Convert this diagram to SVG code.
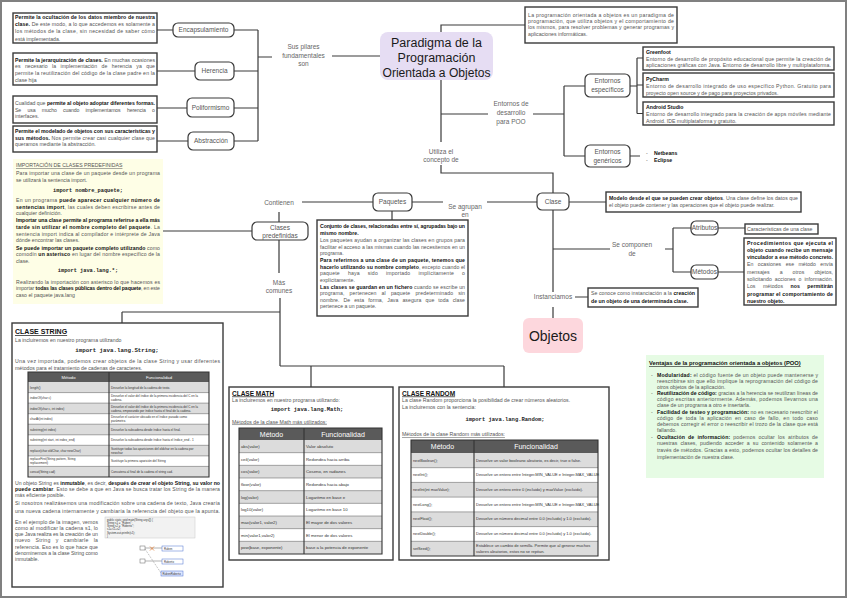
<svg xmlns="http://www.w3.org/2000/svg" width="848" height="600" viewBox="0 0 848 600">
<style>
text{font-family:"Liberation Sans",Arial,sans-serif;}
.frame{fill:none;stroke:#808080;stroke-width:2}
.c{fill:none;stroke:#3a3a3a;stroke-width:1.2}
.n{fill:#fff;stroke:#3a3a3a;stroke-width:1.2}
.b{fill:#fff;stroke:#3a3a3a;stroke-width:1.4}
.t{font-size:5.2px;fill:#555}
.k{font-weight:bold;fill:#111}
.nl{font-size:6.5px;fill:#555;text-anchor:middle}
.lb{font-size:6.5px;fill:#666;text-anchor:middle}
.mono{font-family:"Liberation Mono","DejaVu Sans Mono",monospace;font-weight:bold;fill:#222}
.ttl{font-weight:bold;fill:#111;text-decoration:underline}
.th{fill:#5a5a5a}
.gr{fill:#dcdcdc}
.tl{stroke:#555;stroke-width:0.5;fill:none}
.to{stroke:#333;stroke-width:1.1;fill:none}
.hd{fill:#fff;text-anchor:middle}
.cm{font-family:"Liberation Mono","DejaVu Sans Mono",monospace;fill:#333}
.cf{fill:#333}
</style>

<rect class="frame" x="1" y="1" width="845" height="596"/>

<g id="connectors">
<path class="c" d="M157 30H173 M234 30H258 M157 71H195 M234 71H258 M157 108H187 M234 108H258 M157 141H188 M234 141H258 M258 30V141 M258 57H272 M332 56H380"/>
<path class="c" d="M441 32V25H525 M441 80V142 M441 114H488 M533 114H564 M564 86V156 M564 86H585 M564 156H585 M630 86H637 M637 58V113.5 M637 58H643 M637 85H643 M637 113.5H643 M630 156H640"/>
<path class="c" d="M441 165V173H553V193 M553 210V292 M553 307V318 M569 202H606 M553 249H610 M665 249H673 M673 228V272 M673 228H691 M673 272H691 M718 228H745 M718 272H744 M575 297H588"/>
<path class="c" d="M537 202H487 M443 202H412 M373 202H302 M279 212V222 M252 231H163 M279 240V273 M280 298V366 M122 312H280 M122 312V323 M280 366H504 M311 366V387 M504 366V387 M392 211V220"/>
</g>

<g id="box-encapsulamiento">
<rect class="b" x="13" y="13" width="144" height="30"/>
<text class="t" x="15" y="18.8" textLength="140" lengthAdjust="spacing"><tspan class="k">Permite la ocultación de los datos miembro de nuestra</tspan></text>
<text class="t" x="15" y="26" textLength="140" lengthAdjust="spacing"><tspan class="k">clase.</tspan> De este modo, a lo que accedemos es solamente a</text>
<text class="t" x="15" y="33.3" textLength="140" lengthAdjust="spacing">los métodos de la clase, sin necesidad de saber cómo</text>
<text class="t" x="15" y="40.5">está implementada.</text>
</g>
<g id="box-herencia">
<rect class="b" x="13" y="53" width="144" height="32"/>
<text class="t" x="15" y="61.8" textLength="140" lengthAdjust="spacing"><tspan class="k">Permite la jerarquización de clases.</tspan> En muchas ocasiones</text>
<text class="t" x="15" y="68.3" word-spacing="3" textLength="140" lengthAdjust="spacing">es necesario la implementación de herencia ya que</text>
<text class="t" x="15" y="74.8" textLength="140" lengthAdjust="spacing">permite la reutilización del código de la clase padre en la</text>
<text class="t" x="15" y="81.5">clase hija</text>
</g>
<g id="box-poliformismo">
<rect class="b" x="13" y="96" width="144" height="27"/>
<text class="t" x="15" y="105" textLength="140" lengthAdjust="spacing">Cualidad que <tspan class="k">permite al objeto adoptar diferentes formas.</tspan></text>
<text class="t" x="15" y="111.5" word-spacing="5" textLength="140" lengthAdjust="spacing">Se usa mucho cuando implementamos herencia o</text>
<text class="t" x="15" y="118">interfaces.</text>
</g>
<g id="box-abstraccion">
<rect class="b" x="13" y="126" width="144" height="26"/>
<text class="t" x="15" y="133" textLength="140" lengthAdjust="spacing"><tspan class="k">Permite el modelado de objetos con sus características y</tspan></text>
<text class="t" x="15" y="139.5" textLength="140" lengthAdjust="spacing"><tspan class="k">sus métodos.</tspan> Nos permite crear casi cualquier clase que</text>
<text class="t" x="15" y="146">queramos mediante la abstracción.</text>
</g>

<g id="node-encapsulamiento"><rect class="n" x="173" y="23" width="61" height="14" rx="5"/><text class="nl" x="203.5" y="32.3">Encapsulamiento</text></g>
<g id="node-herencia"><rect class="n" x="195" y="62" width="39" height="18" rx="5"/><text class="nl" x="214.5" y="73.3">Herencia</text></g>
<g id="node-poliformismo"><rect class="n" x="187" y="98" width="47" height="19" rx="5"/><text class="nl" x="210.5" y="109.8">Poliformismo</text></g>
<g id="node-abstraccion"><rect class="n" x="188" y="132" width="46" height="18" rx="5"/><text class="nl" x="211" y="143.3">Abstracción</text></g>

<g id="label-pilares"><text class="lb" x="303.5" y="49">Sus pilares</text><text class="lb" x="303.5" y="57.5">fundamentales</text><text class="lb" x="303.5" y="66">son</text></g>

<g id="node-paradigma">
<rect x="380" y="32" width="113" height="48" rx="8" fill="#e6ddf3"/>
<text x="436.5" y="46.5" font-size="12.5" fill="#1a1a1a" text-anchor="middle">Paradigma de la</text>
<text x="436.5" y="61.5" font-size="12.5" fill="#1a1a1a" text-anchor="middle">Programación</text>
<text x="436.5" y="76.5" font-size="12.5" fill="#1a1a1a" text-anchor="middle" textLength="108" lengthAdjust="spacingAndGlyphs">Orientada a Objetos</text>
</g>

<g id="box-definicion">
<rect class="b" x="525" y="7" width="152" height="36"/>
<text class="t" x="528" y="16.8" textLength="146" lengthAdjust="spacing">La programación orientada a objetos es un paradigma de</text>
<text class="t" x="528" y="23.1" textLength="146" lengthAdjust="spacing">programación, que utiliza objetos y el comportamiento de</text>
<text class="t" x="528" y="29.4" textLength="146" lengthAdjust="spacing">los mismos, para resolver problemas y generar programas y</text>
<text class="t" x="528" y="35.7">aplicaciones informáticas.</text>
</g>

<g id="label-entornos"><text class="lb" x="511" y="106">Entornos de</text><text class="lb" x="511" y="115">desarrollo</text><text class="lb" x="511" y="124">para POO</text></g>

<g id="node-especificos"><rect class="n" x="585" y="74" width="45" height="23" rx="5"/><text class="nl" font-size="6" x="607.5" y="83.3">Entornos</text><text class="nl" font-size="6" x="607.5" y="92.3">específicos</text></g>
<g id="node-genericos"><rect class="n" x="585" y="145" width="45" height="22" rx="5"/><text class="nl" font-size="6" x="607.5" y="154">Entornos</text><text class="nl" font-size="6" x="607.5" y="163">genéricos</text></g>

<g id="box-greenfoot">
<rect class="b" x="643" y="47" width="191" height="23"/>
<text class="t" x="646" y="54"><tspan class="k">Greenfoot</tspan></text>
<text class="t" x="646" y="60.5" textLength="185" lengthAdjust="spacing">Entorno de desarrollo de propósito educacional que permite la creación de</text>
<text class="t" x="646" y="67" textLength="185" lengthAdjust="spacing">aplicaciones gráficas con Java. Entorno de desarrollo libre y multiplataforma.</text>
</g>
<g id="box-pycharm">
<rect class="b" x="643" y="73" width="191" height="24"/>
<text class="t" x="646" y="81"><tspan class="k">PyCharm</tspan></text>
<text class="t" x="646" y="88" textLength="185" lengthAdjust="spacing">Entorno de desarrollo integrado de uso específico Python. Gratuito para</text>
<text class="t" x="646" y="94.5">proyecto open source y de pago para proyectos privados.</text>
</g>
<g id="box-android">
<rect class="b" x="643" y="102" width="191" height="23"/>
<text class="t" x="646" y="109"><tspan class="k">Android Studio</tspan></text>
<text class="t" x="646" y="116" textLength="185" lengthAdjust="spacing">Entorno de desarrollo integrado para la creación de apps móviles mediante</text>
<text class="t" x="646" y="122.5">Android. IDE multiplataforma y gratuito.</text>
</g>
<g id="list-genericos">
<text class="t" x="646" y="155.3">-</text><text class="t" x="654" y="155.3"><tspan class="k">Netbeans</tspan></text>
<text class="t" x="646" y="161.8">-</text><text class="t" x="654" y="161.8"><tspan class="k">Eclipse</tspan></text>
</g>

<g id="label-utiliza"><text class="lb" x="441" y="154">Utiliza el</text><text class="lb" x="441" y="162">concepto de</text></g>

<g id="node-clase"><rect class="n" x="537" y="193" width="32" height="17" rx="5"/><text class="nl" font-size="6" x="553" y="203.8">Clase</text></g>
<g id="box-clase">
<rect class="b" x="606" y="192" width="195" height="20"/>
<text class="t" x="609" y="199.7" textLength="189" lengthAdjust="spacing"><tspan class="k">Modelo desde el que se pueden crear objetos</tspan>. Una clase define los datos que</text>
<text class="t" x="609" y="206.7">el objeto puede contener y las operaciones que el objeto puede realizar.</text>
</g>

<g id="label-componen"><text class="lb" font-size="6" x="632" y="247">Se componen</text><text class="lb" font-size="6" x="632" y="256">de</text></g>
<g id="node-atributos"><rect class="n" x="691" y="221" width="27" height="14" rx="5"/><text class="nl" font-size="5.5" x="704.5" y="230">Atributos</text></g>
<g id="node-metodos"><rect class="n" x="691" y="265" width="27" height="14" rx="5"/><text class="nl" font-size="5.5" x="704.5" y="274">Métodos</text></g>
<g id="box-atributos">
<rect class="b" x="745" y="224" width="73" height="10"/>
<text class="t" font-size="4.6" x="747" y="230.8">Características de una clase</text>
</g>
<g id="box-metodos">
<rect class="b" x="744" y="238" width="92" height="67"/>
<text class="t" x="747" y="244.5" textLength="86" lengthAdjust="spacing"><tspan class="k">Procedimientos que ejecuta el</tspan></text>
<text class="t" x="747" y="251.8" textLength="86" lengthAdjust="spacing"><tspan class="k">objeto cuando recibe un mensaje</tspan></text>
<text class="t" x="747" y="259.1" textLength="86" lengthAdjust="spacing"><tspan class="k">vinculador a ese método concreto.</tspan></text>
<text class="t" x="747" y="266.4" word-spacing="3" textLength="86" lengthAdjust="spacing">En ocasiones ese método envía</text>
<text class="t" x="747" y="273.7" word-spacing="8.5" textLength="86" lengthAdjust="spacing">mensajes a otros objetos,</text>
<text class="t" x="747" y="281" word-spacing="1.5" textLength="86" lengthAdjust="spacing">solicitando acciones o información.</text>
<text class="t" x="747" y="288.3" word-spacing="6" textLength="86" lengthAdjust="spacing">Los métodos <tspan class="k">nos permitirán</tspan></text>
<text class="t" x="747" y="295.6" textLength="86" lengthAdjust="spacing"><tspan class="k">programar el comportamiento de</tspan></text>
<text class="t" x="747" y="302.6"><tspan class="k">nuestro objeto.</tspan></text>
</g>

<g id="label-instanciamos"><text class="lb" x="553" y="299.3">Instanciamos</text></g>
<g id="box-instancia">
<rect class="b" x="588" y="288" width="110" height="19"/>
<text class="t" x="591" y="295.2" textLength="104" lengthAdjust="spacing">Se conoce como instanciación a la <tspan class="k">creación</tspan></text>
<text class="t" x="591" y="302.5"><tspan class="k">de un objeto de una determinada clase.</tspan></text>
</g>
<g id="node-objetos"><rect x="523" y="318" width="60" height="35" rx="6" fill="#fdd7dd"/><text x="553" y="340.5" font-size="14" fill="#1a1a1a" text-anchor="middle">Objetos</text></g>

<g id="label-agrupan"><text class="lb" x="465" y="208.5">Se agrupan</text><text class="lb" x="465" y="217">en</text></g>
<g id="node-paquetes"><rect class="n" x="373" y="193" width="39" height="18" rx="5"/><text class="nl" font-size="6" x="392.5" y="204.3">Paquetes</text></g>
<g id="box-paquetes">
<rect class="b" x="317" y="220" width="151" height="96"/>
<text class="t" x="320" y="228" textLength="145" lengthAdjust="spacing"><tspan class="k">Conjunto de clases, relacionadas entre sí, agrupadas bajo un</tspan></text>
<text class="t" x="320" y="234.5"><tspan class="k">mismo nombre.</tspan></text>
<text class="t" x="320" y="242" textLength="145" lengthAdjust="spacing">Los paquetes ayudan a organizar las clases en grupos para</text>
<text class="t" x="320" y="248.5" textLength="145" lengthAdjust="spacing">facilitar el acceso a las mismas cuando las necesitemos en un</text>
<text class="t" x="320" y="255">programa.</text>
<text class="t" x="320" y="262" textLength="145" lengthAdjust="spacing"><tspan class="k">Para referirnos a una clase de un paquete, tenemos que</tspan></text>
<text class="t" x="320" y="268.5" textLength="145" lengthAdjust="spacing"><tspan class="k">hacerlo utilizando su nombre completo</tspan>, excepto cuando el</text>
<text class="t" x="320" y="275" word-spacing="6.5" textLength="145" lengthAdjust="spacing">paquete haya sido importado implícitamente o</text>
<text class="t" x="320" y="281.5">explícitamente.</text>
<text class="t" x="320" y="288.5" textLength="145" lengthAdjust="spacing"><tspan class="k">Las clases se guardan en un fichero</tspan> cuando se escribe un</text>
<text class="t" x="320" y="295" word-spacing="3.5" textLength="145" lengthAdjust="spacing">programa, pertenecen al paquete predeterminado sin</text>
<text class="t" x="320" y="301.5" word-spacing="2.5" textLength="145" lengthAdjust="spacing">nombre. De esta forma, Java asegura que toda clase</text>
<text class="t" x="320" y="308">pertenece a un paquete.</text>
</g>

<g id="label-contienen"><text class="lb" x="279" y="204.5">Contienen</text></g>
<g id="node-predefinidas"><rect class="n" x="252" y="222" width="56" height="18" rx="5"/><text class="nl" x="280" y="229.5">Clases</text><text class="nl" x="280" y="238">predefinidas</text></g>
<g id="label-comunes"><text class="lb" x="279" y="284.5">Más</text><text class="lb" x="279" y="292.5">comunes</text></g>

<g id="box-importacion">
<rect x="13" y="159" width="150" height="145" fill="#fefee6"/>
<text class="t" x="16" y="167" fill="#333" text-decoration="underline">IMPORTACIÓN DE CLASES PREDEFINIDAS</text>
<text class="t" x="16" y="175" textLength="144" lengthAdjust="spacing">Para importar una clase de un paquete desde un programa</text>
<text class="t" x="16" y="181.5">se utilizará la sentencia import.</text>
<text class="mono" font-size="5.3" x="88" y="192" text-anchor="middle">import nombre_paquete;</text>
<text class="t" x="16" y="202" textLength="144" lengthAdjust="spacing">En un programa <tspan class="k">puede aparecer cualquier número de</tspan></text>
<text class="t" x="16" y="208.5" textLength="144" lengthAdjust="spacing"><tspan class="k">sentencias import</tspan>, las cuales deben escribirse antes de</text>
<text class="t" x="16" y="215">cualquier definición.</text>
<text class="t" x="16" y="222" textLength="144" lengthAdjust="spacing"><tspan class="k">Importar una clase permite al programa referirse a ella más</tspan></text>
<text class="t" x="16" y="228.8" textLength="144" lengthAdjust="spacing"><tspan class="k">tarde sin utilizar el nombre completo del paquete</tspan>. La</text>
<text class="t" x="16" y="235.5" textLength="144" lengthAdjust="spacing">sentencia import indica al compilador e intérprete de Java</text>
<text class="t" x="16" y="242">dónde encontrar las clases.</text>
<text class="t" x="16" y="249.5" textLength="144" lengthAdjust="spacing"><tspan class="k">Se puede importar un paquete completo utilizando</tspan> como</text>
<text class="t" x="16" y="256" textLength="144" lengthAdjust="spacing">comodín <tspan class="k">un asterisco</tspan> en lugar del nombre específico de la</text>
<text class="t" x="16" y="262.5">clase.</text>
<text class="mono" font-size="5.3" x="88" y="272" text-anchor="middle">import java.lang.*;</text>
<text class="t" x="16" y="283.5" textLength="144" lengthAdjust="spacing">Realizando la importación con asterisco lo que hacemos es</text>
<text class="t" x="16" y="290" textLength="144" lengthAdjust="spacing">importar <tspan class="k">todas las clases públicas dentro del paquete</tspan>, en este</text>
<text class="t" x="16" y="296.5">caso el paquete java.lang</text>
</g>

<g id="box-string">
<rect class="b" x="12" y="323" width="211" height="264"/>
<text class="ttl" font-size="7" x="15" y="334">CLASE STRING</text>
<text class="t" font-size="5.4" x="15" y="341.5">La incluiremos en nuestro programa utilizando</text>
<text class="mono" font-size="5.8" x="117" y="351.5" text-anchor="middle">import java.lang.String;</text>
<text class="t" font-size="5.4" x="15" y="363" textLength="205" lengthAdjust="spacing">Una vez importada, podemos crear objetos de la clase String y usar diferentes</text>
<text class="t" font-size="5.4" x="15" y="369.5">métodos para el tratamiento de cadenas de caracteres.</text>
<rect class="th" x="28" y="372" width="181" height="10"/>
<rect class="gr" x="28" y="382" width="181" height="10.6"/>
<rect class="gr" x="28" y="403.1" width="181" height="10.6"/>
<rect class="gr" x="28" y="424.2" width="181" height="10.6"/>
<rect class="gr" x="28" y="445.3" width="181" height="10.6"/>
<rect class="gr" x="28" y="466.4" width="181" height="10.6"/>
<path class="tl" d="M28 392.6H209 M28 403.1H209 M28 413.7H209 M28 424.2H209 M28 434.8H209 M28 445.3H209 M28 455.9H209 M28 466.4H209"/>
<path class="to" d="M28 372H209V477H28Z M109 372V477"/>
<text class="hd" font-size="4.2" x="68.5" y="378.8">Método</text>
<text class="hd" font-size="4.2" x="159" y="378.8">Funcionalidad</text>
<g class="cm" font-size="3.1">
<text x="30" y="388.5">length()</text>
<text x="30" y="399">indexOf(char c)</text>
<text x="30" y="409.5">indexOf(char c, int index)</text>
<text x="30" y="420">charAt(int index)</text>
<text x="30" y="430.5">substring(int index)</text>
<text x="30" y="441">substring(int start, int index_end)</text>
<text x="30" y="451.5">replace(char oldChar, char newChar)</text>
<text x="30" y="460.2">replaceFirst(String pattern, String</text>
<text x="30" y="464.2">replacement)</text>
<text x="30" y="472.7">concat(String cad)</text>
</g>
<g class="cf" font-size="3.1">
<text x="111" y="388.5">Devuelve la longitud de la cadena de texto.</text>
<text x="111" y="397">Devuelve el valor del índice de la primera incidencia del C en la</text>
<text x="111" y="401">cadena.</text>
<text x="111" y="407.5">Devuelve el valor del índice de la primera incidencia del C en la</text>
<text x="111" y="411.5">cadena, empezando por índice hasta el final de la cadena.</text>
<text x="111" y="418">Devuelve el carácter ubicado en el índice pasado como</text>
<text x="111" y="422">parámetro.</text>
<text x="111" y="430.5">Devuelve la subcadena desde índice hasta el final.</text>
<text x="111" y="441">Devuelve la subcadena desde índice hasta el índice_end - 1</text>
<text x="111" y="449.6">Sustituye todas las apariciones del oldchar en la cadena por</text>
<text x="111" y="453.6">newchar</text>
<text x="111" y="462.2">Sustituye la primera aparición del String</text>
<text x="111" y="472.7">Concatena al final de la cadena el string cad.</text>
</g>
<text class="t" font-size="5.4" x="15" y="485" textLength="205" lengthAdjust="spacing">Un objeto String es <tspan class="k">inmutable</tspan>, es decir, <tspan class="k">después de crear el objeto String, su valor no</tspan></text>
<text class="t" font-size="5.4" x="15" y="491.3" textLength="205" lengthAdjust="spacing"><tspan class="k">puede cambiar</tspan>. Esto se debe a que en Java se busca tratar los String de la manera</text>
<text class="t" font-size="5.4" x="15" y="497.3">más eficiente posible.</text>
<text class="t" font-size="5.4" x="15" y="504.7" textLength="205" lengthAdjust="spacing">Si nosotros realizásemos una modificación sobre una cadena de texto, Java crearía</text>
<text class="t" font-size="5.4" x="15" y="512.7" textLength="205" lengthAdjust="spacing">una nueva cadena internamente y cambiaría la referencia del objeto que la apunta.</text>
<text class="t" font-size="5.4" x="15" y="523.7" textLength="83" lengthAdjust="spacing">En el ejemplo de la imagen, vemos</text>
<text class="t" font-size="5.4" x="15" y="529.8" textLength="83" lengthAdjust="spacing">como al modificar la cadena s1, lo</text>
<text class="t" font-size="5.4" x="15" y="536" textLength="83" lengthAdjust="spacing">que Java realiza es la creación de un</text>
<text class="t" font-size="5.4" x="15" y="542.2" word-spacing="3.5" textLength="83" lengthAdjust="spacing">nuevo String y cambiarle la</text>
<text class="t" font-size="5.4" x="15" y="548.7" textLength="83" lengthAdjust="spacing">referencia. Eso es lo que hace que</text>
<text class="t" font-size="5.4" x="15" y="554.8" textLength="83" lengthAdjust="spacing">denominemos a la clase String como</text>
<text class="t" font-size="5.4" x="15" y="561">inmutable.</text>
<rect x="105" y="517" width="90" height="21" fill="#f2f2f2" stroke="#c8c8c8" stroke-width="0.5"/>
<g class="cm" font-size="2.8">
<text x="107" y="520.5">public static void main(String args[]) {</text>
<text x="107" y="523.8">    String s1 = &quot;Ruben&quot;;</text>
<text x="107" y="527.1">    String s2 = &quot;Roberto&quot;;</text>
<text x="107" y="530.4">    s1= s1+s2;</text>
<text x="107" y="533.7">    System.out.println(s1);</text>
<text x="107" y="537">}</text>
</g>
<rect x="140" y="546" width="5" height="4" fill="#fff" stroke="#666" stroke-width="0.5"/>
<rect x="140" y="559" width="5" height="4" fill="#fff" stroke="#666" stroke-width="0.5"/>
<path d="M145 548H162 M145 561H162" stroke="#666" stroke-width="0.5"/>
<path d="M145 549L161 573" stroke="#666" stroke-width="0.5" stroke-dasharray="1 1"/>
<path d="M150 546.5L154 550.5 M154 546.5L150 550.5" stroke="#e07020" stroke-width="0.7"/>
<rect x="162" y="546" width="21" height="5" fill="#fff" stroke="#4a6fd0" stroke-width="0.5"/>
<rect x="162" y="559" width="21" height="5" fill="#fff" stroke="#4a6fd0" stroke-width="0.5"/>
<rect x="161" y="571" width="22" height="5" fill="#dfe7ff" stroke="#4a6fd0" stroke-width="0.5"/>
<text x="164" y="549.9" font-size="2.8" fill="#333">Ruben</text>
<text x="164" y="562.9" font-size="2.8" fill="#333">Roberto</text>
<text x="162.5" y="574.9" font-size="2.8" fill="#333">RubenRoberto</text>
</g>

<g id="box-math">
<rect class="b" x="229" y="387" width="164" height="173"/>
<text class="ttl" font-size="6.5" x="232" y="395.5">CLASE MATH</text>
<text class="t" font-size="5" x="232" y="401.5">La incluiremos en nuestro programa utilizando:</text>
<text class="mono" font-size="5.5" x="307" y="410.5" text-anchor="middle">import java.lang.Math;</text>
<text class="t" font-size="5" x="232" y="423.5" text-decoration="underline">Métodos de la clase Math más utilizados:</text>
<rect class="th" x="239" y="428" width="143" height="12"/>
<rect class="gr" x="239" y="440" width="143" height="12.67"/>
<rect class="gr" x="239" y="465.33" width="143" height="12.67"/>
<rect class="gr" x="239" y="490.67" width="143" height="12.67"/>
<rect class="gr" x="239" y="516" width="143" height="12.67"/>
<rect class="gr" x="239" y="541.33" width="143" height="12.67"/>
<path class="tl" d="M239 452.67H382 M239 465.33H382 M239 478H382 M239 490.67H382 M239 503.33H382 M239 516H382 M239 528.67H382 M239 541.33H382"/>
<path class="to" d="M239 428H382V554H239Z M304 428V554"/>
<text class="hd" font-size="7" x="271.5" y="436.5">Método</text>
<text class="hd" font-size="7" x="343" y="436.5">Funcionalidad</text>
<g class="cm" font-size="4.2">
<text x="241" y="447.8">abs(valor)</text>
<text x="241" y="460.5">ceil(valor)</text>
<text x="241" y="473.2">cos(valor)</text>
<text x="241" y="485.8">floor(valor)</text>
<text x="241" y="498.5">log(valor)</text>
<text x="241" y="511.2">log10(valor)</text>
<text x="241" y="523.8">max(valor1, valor2)</text>
<text x="241" y="536.5">min(valor1,valor2)</text>
<text x="241" y="549.2">pow(base, exponente)</text>
</g>
<g class="cf" font-size="4.3">
<text x="306" y="447.8">Valor absoluto</text>
<text x="306" y="460.5">Redondea hacia arriba</text>
<text x="306" y="473.2">Coseno, en radianes</text>
<text x="306" y="485.8">Redondea hacia abajo</text>
<text x="306" y="498.5">Logaritmo en base e</text>
<text x="306" y="511.2">Logaritmo en base 10</text>
<text x="306" y="523.8">El mayor de dos valores</text>
<text x="306" y="536.5">El menor de dos valores</text>
<text x="306" y="549.2">base a la potencia de exponente</text>
</g>
</g>

<g id="box-random">
<rect class="b" x="399" y="387" width="210" height="173"/>
<text class="ttl" font-size="6.5" x="402" y="395.5">CLASE RANDOM</text>
<text class="t" font-size="5" x="402" y="402">La clase Random proporciona la posibilidad de crear números aleatorios.</text>
<text class="t" font-size="5" x="402" y="408.5">La incluiremos con la sentencia:</text>
<text class="mono" font-size="5.5" x="505" y="421" text-anchor="middle">import java.lang.Random;</text>
<text class="t" font-size="5" x="402" y="436" text-decoration="underline">Métodos de la clase Random más utilizados:</text>
<rect class="th" x="411" y="440" width="187" height="13"/>
<rect class="gr" x="411" y="453" width="187" height="14.7"/>
<rect class="gr" x="411" y="482.4" width="187" height="14.7"/>
<rect class="gr" x="411" y="511.9" width="187" height="14.7"/>
<rect class="gr" x="411" y="541.3" width="187" height="14.7"/>
<path class="tl" d="M411 467.7H598 M411 482.4H598 M411 497.1H598 M411 511.9H598 M411 526.6H598 M411 541.3H598"/>
<path class="to" d="M411 440H598V556H411Z M474 440V556"/>
<text class="hd" font-size="7" x="442.5" y="449">Método</text>
<text class="hd" font-size="7" x="536" y="449">Funcionalidad</text>
<g class="cm" font-size="3.8">
<text x="413" y="461.5">nextBoolean();</text>
<text x="413" y="476.2">nextInt();</text>
<text x="413" y="490.9">nextInt(int maxValue);</text>
<text x="413" y="505.6">nextLong();</text>
<text x="413" y="520.4">nextFloat();</text>
<text x="413" y="535.1">nextDouble();</text>
<text x="413" y="549.8">setSeed();</text>
</g>
<g class="cf" font-size="4">
<text x="476" y="461.5">Devuelve un valor booleano aleatorio, es decir, true o false.</text>
<text x="476" y="476.2">Devuelve un entero entre Integer.MIN_VALUE e Integer.MAX_VALUE</text>
<text x="476" y="490.9">Devuelve un entero entre 0 (incluido) y maxValue (excluido).</text>
<text x="476" y="505.6">Devuelve un entero entre Integer.MIN_VALUE e Integer.MAX_VALUE</text>
<text x="476" y="520.4">Devuelve un número decimal entre 0.0 (incluido) y 1.0 (excluido).</text>
<text x="476" y="535.1">Devuelve un número decimal entre 0.0 (incluido) y 1.0 (excluido).</text>
<text x="476" y="547">Establece un cambio de semilla. Permite que al generar muchos</text>
<text x="476" y="552.5">valores aleatorios, estos no se repitan.</text>
</g>
</g>

<g id="box-ventajas">
<rect x="646" y="355" width="178" height="123" fill="#e6fbe4"/>
<text class="ttl" font-size="5.8" x="649" y="365.3">Ventajas de la programación orientada a objetos (POO)</text>
<text class="t" x="651" y="377">-</text>
<text class="t" x="657" y="377" textLength="161" lengthAdjust="spacing"><tspan class="k">Modularidad:</tspan> el código fuente de un objeto puede mantenerse y</text>
<text class="t" x="657" y="382.7" textLength="161" lengthAdjust="spacing">reescribirse sin que ello implique la reprogramación del código de</text>
<text class="t" x="657" y="388.7">otros objetos de la aplicación.</text>
<text class="t" x="651" y="394.7">-</text>
<text class="t" x="657" y="394.7" textLength="161" lengthAdjust="spacing"><tspan class="k">Reutilización de código:</tspan> gracias a la herencia se reutilizan líneas de</text>
<text class="t" x="657" y="401" textLength="161" lengthAdjust="spacing">código escritas anteriormente. Además, podemos llevarnos una</text>
<text class="t" x="657" y="407">clase de un programa a otro e insertarla.</text>
<text class="t" x="651" y="413.7">-</text>
<text class="t" x="657" y="413.7" textLength="161" lengthAdjust="spacing"><tspan class="k">Facilidad de testeo y programación:</tspan> no es necesario reescribir el</text>
<text class="t" x="657" y="419.7" word-spacing="1.5" textLength="161" lengthAdjust="spacing">código de toda la aplicación en caso de fallo, en todo caso</text>
<text class="t" x="657" y="426" textLength="161" lengthAdjust="spacing">debemos corregir el error o reescribir el trozo de la clase que está</text>
<text class="t" x="657" y="432">fallando.</text>
<text class="t" x="651" y="438.7">-</text>
<text class="t" x="657" y="438.7" word-spacing="1.5" textLength="161" lengthAdjust="spacing"><tspan class="k">Ocultación de información:</tspan> podemos ocultar los atributos de</text>
<text class="t" x="657" y="445.3" word-spacing="1.5" textLength="161" lengthAdjust="spacing">nuestras clases, pudiendo acceder a su contenido solamente a</text>
<text class="t" x="657" y="452" textLength="161" lengthAdjust="spacing">través de métodos. Gracias a esto, podemos ocultar los detalles de</text>
<text class="t" x="657" y="458.7">implementación de nuestra clase.</text>
</g>
</svg>
